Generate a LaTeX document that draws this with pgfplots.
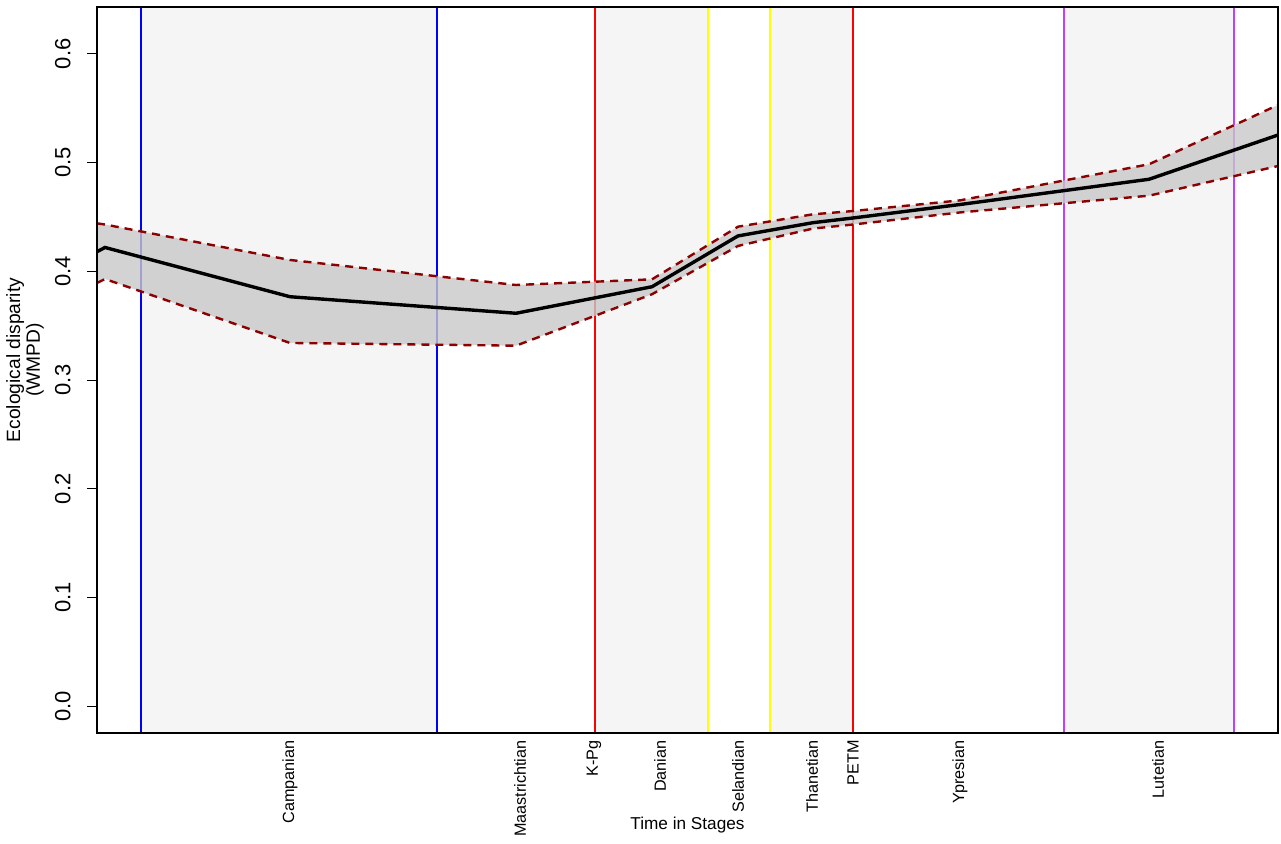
\documentclass[border=0pt]{standalone}
\usepackage{pgfplots}
\pgfplotsset{compat=1.18}
\usepackage{fontspec}
\setmainfont{Liberation Sans}
\definecolor{shade}{HTML}{F5F5F5}
\definecolor{band}{RGB}{200,200,200}
\definecolor{ci}{HTML}{8B0000}
\definecolor{lpurple}{HTML}{BF3EFF}
\definecolor{lblue}{HTML}{0000FF}
\definecolor{lred}{HTML}{FF0000}
\definecolor{lyellow}{HTML}{FFFF00}
\begin{document}
\begin{tikzpicture}
\useasboundingbox (-48.5pt,-55pt) rectangle (592pt,366.5pt);
\begin{axis}[
  at={(0,0)}, anchor=south west,
  scale only axis, width=590.5pt, height=363pt,
  xmin=97, xmax=1278, ymin=-0.02455, ymax=0.643,
  axis on top,
  axis line style={line width=0.75pt},
  tick pos=left,
  xtick={290,520,594,660,738,812,853,960,1158},
  xticklabels={Campanian,Maastrichtian,K-Pg,Danian,Selandian,Thanetian,PETM,Ypresian,Lutetian},
  x tick style={draw=none},
  xticklabel style={rotate=90, anchor=east, font=\fontsize{8.1}{9}\selectfont, inner sep=0pt},
  xticklabel shift=-1.5pt,
  ytick={0,0.1,0.2,0.3,0.4,0.5,0.6},
  yticklabel style={rotate=90, anchor=south, font=\fontsize{11}{12}\selectfont, inner sep=0pt,
    /pgf/number format/.cd, fixed, fixed zerofill, precision=1, assume math mode=true},
  yticklabel shift=8pt,
  y tick style={line width=0.5pt, black},
  tick align=outside, major tick length=5pt,
  xlabel={Time in Stages},
  xlabel style={font=\fontsize{8.6}{10}\selectfont, at={([yshift=-46pt]axis description cs:0.5,0)}, anchor=center},
  ylabel={Ecological disparity\\(WMPD)},
  ylabel style={align=center, font=\fontsize{9.6}{8}\selectfont, at={([xshift=-36pt,yshift=5pt]axis description cs:0,0.5)}, anchor=center},
  clip=true,
]
% stage shading
\addplot[fill=shade, draw=none] coordinates {(141,-0.1) (437,-0.1) (437,0.7) (141,0.7)} -- cycle;
\addplot[fill=shade, draw=none] coordinates {(595,-0.1) (708,-0.1) (708,0.7) (595,0.7)} -- cycle;
\addplot[fill=shade, draw=none] coordinates {(770,-0.1) (853,-0.1) (853,0.7) (770,0.7)} -- cycle;
\addplot[fill=shade, draw=none] coordinates {(1064,-0.1) (1234,-0.1) (1234,0.7) (1064,0.7)} -- cycle;
% boundaries
\addplot[lblue, line width=1pt] coordinates {(141,-0.1) (141,0.7)};
\addplot[lblue, line width=1pt] coordinates {(437,-0.1) (437,0.7)};
\addplot[lred, line width=1pt] coordinates {(595,-0.1) (595,0.7)};
\addplot[lyellow, line width=1pt] coordinates {(708,-0.1) (708,0.7)};
\addplot[lyellow, line width=1pt] coordinates {(770,-0.1) (770,0.7)};
\addplot[lred, line width=1pt] coordinates {(853,-0.1) (853,0.7)};
\addplot[lpurple, line width=1pt] coordinates {(1064,-0.1) (1064,0.7)};
\addplot[lpurple, line width=1pt] coordinates {(1234,-0.1) (1234,0.7)};
% confidence band
\addplot[fill=band, fill opacity=0.8, draw=none] coordinates {
 (97,0.4441) (105,0.4430) (290,0.4104) (516,0.3874) (652,0.3926) (738,0.4410) (813,0.4524) (853,0.4554) (960,0.4652) (1149,0.4984) (1278,0.5529)
 (1278,0.4968) (1149,0.4695) (960,0.4541) (853,0.4430) (813,0.4393) (738,0.4233) (652,0.3789) (516,0.3316) (290,0.3341) (105,0.3929) (97,0.3892)
} -- cycle;
% upper / lower
\addplot[ci, line width=1.2pt, dash pattern=on 4pt off 3pt] coordinates {
 (97,0.4441) (105,0.4430) (290,0.4104) (516,0.3874) (652,0.3926) (738,0.4410) (813,0.4524) (853,0.4554) (960,0.4652) (1149,0.4984) (1278,0.5529)};
\addplot[ci, line width=1.2pt, dash pattern=on 4pt off 3pt] coordinates {
 (97,0.3892) (105,0.3929) (290,0.3341) (516,0.3316) (652,0.3789) (738,0.4233) (813,0.4393) (853,0.4430) (960,0.4541) (1149,0.4695) (1278,0.4968)};
% mean
\addplot[black, line width=1.7pt] coordinates {
 (97,0.4180) (105,0.4219) (290,0.3766) (516,0.3614) (652,0.3858) (738,0.4325) (813,0.4447) (853,0.4490) (960,0.4614) (1149,0.4846) (1278,0.5253)};
\end{axis}
\end{tikzpicture}
\end{document}
